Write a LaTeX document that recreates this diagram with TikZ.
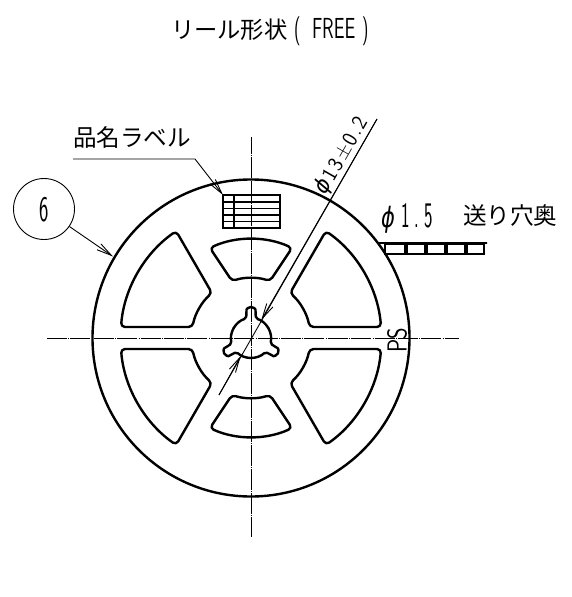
\documentclass[tikz,border=0pt]{standalone}
\usepackage{fontspec}
\usetikzlibrary{arrows.meta}
\newfontfamily\jpf{Noto Sans CJK JP}
\newfontfamily\phif{DejaVu Sans}
\newcommand{\nar}[3]{\scalebox{#1}[1]{\fontsize{#2}{#2}\selectfont\sffamily #3}}
\newcommand{\jpt}[2]{{\fontsize{#1}{#1}\selectfont\jpf #2}}
\tikzset{
  heavy/.style={line width=2.4pt,line join=round,line cap=round},
  thinline/.style={line width=0.9pt},
  centreh/.style={line width=1pt,dash pattern=on 19.9pt off 1.5pt on 1pt off 1pt},
  centrev/.style={line width=1pt,dash pattern=on 20.5pt off 1.5pt on 1pt off 1pt,dash phase=4pt},
  barb/.style={-{Straight Barb[length=15pt,width=7pt]}},
  txt/.style={inner sep=0pt,outer sep=0pt,anchor=base west},
}
\begin{document}
\begin{tikzpicture}[x=1pt,y=1pt]
\useasboundingbox (0,-597) rectangle (572,0);
% titles
\node[txt] (t1) at (171,-38) {\jpt{23.3}{リール形状}};
\node[txt] (t2) at (294,-38.5) {\nar{0.6}{29}{(}};
\node[txt] (t3) at (312,-38.5) {\nar{0.66}{29}{FREE}};
\node[txt] (t4) at (362,-38.5) {\nar{0.6}{29}{)}};
\node[txt] (t5) at (73,-146) {\jpt{23.6}{品名ラベル}};
\node[txt] (t6) at (381,-227) {\nar{0.75}{28}{\phif\itshape ϕ}};
\node[txt] (t7) at (401,-227) {\nar{0.5}{36}{1\kern10pt.\kern10pt 5}};
\node[txt] (t8) at (463,-224.5) {\jpt{23.6}{送り穴奥}};
% reel
\coordinate (ctr) at (251,-338);
\draw[heavy] (ctr) circle[radius=158.5];
\begin{scope}[shift={(ctr)}]
  \foreach \sx/\sy in {1/1,-1/1,1/-1,-1/-1}{
    \begin{scope}[xscale=\sx,yscale=\sy]
      \draw[heavy,rounded corners=4pt] (184.84:130.5) arc[start angle=184.84,end angle=235,radius=130.5]
        -- (229:59.5) arc[start angle=229,end angle=190.7,radius=59.5] -- cycle;
    \end{scope}
  }
  \foreach \sy in {1,-1}{
    \begin{scope}[yscale=\sy]
      \draw[heavy,rounded corners=4pt] (114.5:99) arc[start angle=114.5,end angle=65.5,radius=99]
        -- (71.6:60) arc[start angle=71.6,end angle=108.4,radius=60] -- cycle;
    \end{scope}
  }
  \foreach \a in {90,210,330}{
    \begin{scope}[rotate=\a]
      \draw[heavy,rounded corners=2pt] (60:20) arc[start angle=60,end angle=14,radius=20]
        -- (26.5,4.5) arc[start angle=90,end angle=-90,radius=4.5] -- (-14:20)
        arc[start angle=-14,end angle=-60,radius=20];
    \end{scope}
  }
\end{scope}
% label
\coordinate (lbl) at (223,-195);
\draw[line width=1.4pt] (lbl) rectangle (280,-228);
\foreach \y in {202,208.5,215,221.5}{ \draw[line width=1.2pt] (223,-\y) -- (280,-\y); }
\draw[line width=1.4pt] (234,-195) -- (234,-228);
% tape
\draw[line width=2.6pt] (378,-243) rectangle (487,-243);
\foreach \xa/\xb in {385/405,407/425,427/445,447/465,467/484}{
  \draw[line width=1.6pt] (\xa,-244) rectangle (\xb,-254);
}
% centre lines
\coordinate (hl) at (47,-338); \coordinate (hr) at (459,-338);
\coordinate (vt) at (251,-137); \coordinate (vb) at (251,-537);
\draw[centreh] (hl) -- (hr);
\draw[centrev] (vt) -- (vb);
% leaders
\coordinate (a1) at (73,-159); \coordinate (a2) at (195,-159);
\draw[thinline,barb] (a1) -- (a2) -- (lbl);
\node[circle,draw,line width=0.9pt,minimum size=61pt,inner sep=0pt] (six) at (44,-209) {};
\node[inner sep=0pt,anchor=base] (sixt) at (44,-221.5) {\nar{0.55}{36}{6}};
\coordinate (a3) at (113,-256.5);
\draw[thinline,barb] (six) -- (a3);
% dimension
\coordinate (d1) at (377,-119); \coordinate (d2) at (219,-395);
\coordinate (d3) at (261.3,-320); \coordinate (d4) at (240.7,-356);
\draw[thinline] (d1) -- (d2);
\draw[thinline,barb] (d1) -- (d3);
\draw[thinline,barb] (d2) -- (d4);
\begin{scope}[shift={(ctr)},rotate=60.3]
  \node[inner sep=0pt,anchor=base,rotate=60.3] (dim) at (203,5.5) {\nar{0.95}{22}{{\phif\itshape ϕ}\kern2pt1\kern2pt3\kern2pt±\kern2pt0\kern2pt.\kern2pt2}};
\end{scope}
\node[inner sep=0pt,anchor=base,rotate=90] (ps) at (406.5,-340.5) {\nar{0.8}{27.5}{PS}};
\end{tikzpicture}
\end{document}
